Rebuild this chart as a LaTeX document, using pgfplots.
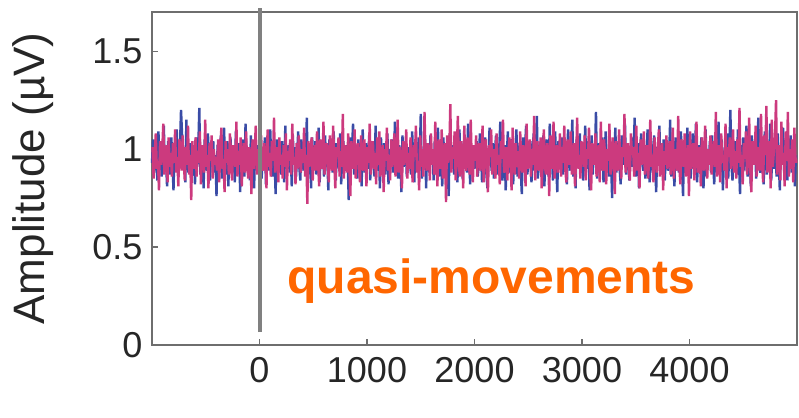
\documentclass[border=0pt]{standalone}
\usepackage{fontspec}
\setmainfont{Liberation Sans}
\usepackage{pgfplots}
\usepackage{pgfplotstable}
\pgfplotsset{compat=1.18}
\definecolor{bluetrace}{HTML}{3A4CA6}
\definecolor{pinktrace}{HTML}{CC3A7E}
\definecolor{framegray}{HTML}{6E6E6E}
\definecolor{vgray}{HTML}{808080}
\definecolor{orangetxt}{HTML}{FF6600}

\pgfplotstableread[row sep=\\]{
y\\
0.93\\ 1.05\\ 0.88\\ 1.01\\ 0.97\\ 0.84\\ 1.09\\ 0.92\\ 1.02\\ 0.86\\ 0.99\\ 1.12\\ 0.90\\ 0.95\\ 0.81\\ 1.04\\ 0.98\\ 0.87\\ 1.06\\ 0.93\\
0.79\\ 1.03\\ 0.96\\ 1.10\\ 0.89\\ 0.94\\ 1.01\\ 1.20\\ 1.07\\ 0.91\\ 0.97\\ 0.83\\ 1.15\\ 0.92\\ 0.88\\ 1.03\\ 0.95\\ 0.86\\ 1.00\\ 0.98\\
0.82\\ 1.06\\ 0.91\\ 0.99\\ 1.21\\ 0.87\\ 0.94\\ 1.02\\ 0.80\\ 1.05\\ 0.93\\ 0.89\\ 1.08\\ 0.96\\ 0.84\\ 1.01\\ 0.92\\ 1.04\\ 0.88\\ 0.97\\
0.76\\ 1.02\\ 0.95\\ 0.90\\ 1.07\\ 0.85\\ 0.99\\ 1.11\\ 0.93\\ 0.87\\ 1.04\\ 0.81\\ 0.98\\ 1.06\\ 0.91\\ 0.95\\ 1.00\\ 0.83\\ 1.09\\ 0.94\\
0.89\\ 1.03\\ 0.78\\ 0.97\\ 1.05\\ 0.92\\ 0.86\\ 1.13\\ 0.95\\ 0.90\\ 1.01\\ 0.84\\ 1.07\\ 0.93\\ 0.98\\ 0.80\\ 1.04\\ 0.96\\ 0.88\\ 1.02\\
0.91\\ 1.08\\ 0.85\\ 0.99\\ 0.94\\ 1.06\\ 0.82\\ 1.00\\ 0.97\\ 0.89\\ 1.10\\ 0.93\\ 0.86\\ 1.03\\ 0.95\\ 0.77\\ 1.05\\ 0.92\\ 0.98\\ 1.01\\
0.87\\ 1.04\\ 0.94\\ 0.83\\ 1.12\\ 0.90\\ 0.96\\ 1.02\\ 0.88\\ 0.99\\ 0.81\\ 1.07\\ 0.93\\ 1.01\\ 0.86\\ 0.97\\ 1.09\\ 0.91\\ 0.84\\ 1.05\\
0.95\\ 0.89\\ 1.03\\ 0.92\\ 1.16\\ 0.85\\ 0.98\\ 1.00\\ 0.80\\ 1.06\\ 0.94\\ 0.90\\ 1.04\\ 0.87\\ 0.96\\ 1.11\\ 0.83\\ 1.02\\ 0.93\\ 0.99\\
0.86\\ 1.07\\ 0.91\\ 0.97\\ 0.79\\ 1.05\\ 0.94\\ 1.01\\ 0.88\\ 1.09\\ 0.92\\ 0.84\\ 1.03\\ 0.96\\ 0.90\\ 1.08\\ 0.82\\ 0.99\\ 1.04\\ 0.93\\
0.89\\ 1.02\\ 0.95\\ 0.74\\ 1.06\\ 0.91\\ 0.98\\ 1.13\\ 0.87\\ 0.94\\ 1.00\\ 0.85\\ 1.05\\ 0.92\\ 0.97\\ 0.81\\ 1.10\\ 0.93\\ 0.88\\ 1.03\\
0.96\\ 0.90\\ 1.07\\ 0.84\\ 0.99\\ 1.04\\ 0.92\\ 0.86\\ 1.12\\ 0.95\\ 0.89\\ 1.01\\ 0.80\\ 1.06\\ 0.93\\ 0.97\\ 1.03\\ 0.87\\ 0.94\\ 1.08\\
0.82\\ 1.00\\ 0.95\\ 1.05\\ 0.88\\ 0.93\\ 1.14\\ 0.90\\ 0.97\\ 0.85\\ 1.02\\ 0.94\\ 0.78\\ 1.07\\ 0.91\\ 0.99\\ 1.04\\ 0.86\\ 0.96\\ 1.01\\
0.92\\ 0.87\\ 1.09\\ 0.94\\ 0.83\\ 1.03\\ 0.97\\ 0.89\\ 1.06\\ 0.93\\ 1.18\\ 0.85\\ 0.99\\ 0.91\\ 1.05\\ 0.80\\ 1.02\\ 0.95\\ 0.88\\ 1.07\\
0.94\\ 1.00\\ 0.84\\ 1.04\\ 0.90\\ 0.97\\ 1.11\\ 0.86\\ 0.99\\ 0.93\\ 0.81\\ 1.06\\ 0.95\\ 0.89\\ 1.03\\ 0.92\\ 0.76\\ 1.08\\ 0.96\\ 0.91\\
1.02\\ 0.87\\ 0.98\\ 1.05\\ 0.83\\ 0.94\\ 1.10\\ 0.90\\ 0.97\\ 0.85\\ 1.04\\ 0.92\\ 1.00\\ 0.88\\ 1.13\\ 0.95\\ 0.82\\ 1.01\\ 0.93\\ 0.99\\
0.90\\ 0.97\\ 1.04\\ 0.86\\ 0.92\\ 1.08\\ 1.01\\ 0.83\\ 0.95\\ 0.99\\ 1.06\\ 0.88\\ 0.80\\ 0.94\\ 1.11\\ 0.96\\ 0.89\\ 1.03\\ 0.85\\ 0.98\\
1.07\\ 0.93\\ 0.87\\ 1.00\\ 1.14\\ 0.91\\ 0.84\\ 0.97\\ 1.02\\ 0.79\\ 0.95\\ 1.09\\ 0.92\\ 0.88\\ 1.05\\ 0.99\\ 0.82\\ 1.01\\ 0.94\\ 1.10\\
0.86\\ 0.96\\ 1.03\\ 0.90\\ 0.77\\ 1.06\\ 0.93\\ 1.00\\ 1.12\\ 0.87\\ 0.91\\ 0.98\\ 1.04\\ 0.83\\ 0.95\\ 1.08\\ 0.89\\ 0.92\\ 1.17\\ 0.85\\
0.99\\ 1.02\\ 0.88\\ 0.94\\ 1.07\\ 0.81\\ 0.97\\ 1.05\\ 0.90\\ 0.86\\ 1.13\\ 0.93\\ 0.96\\ 0.84\\ 1.01\\ 1.09\\ 0.92\\ 0.78\\ 1.04\\ 0.95\\
0.91\\ 1.06\\ 0.87\\ 0.99\\ 1.03\\ 0.93\\ 0.82\\ 1.10\\ 0.96\\ 0.89\\ 1.00\\ 1.15\\ 0.86\\ 0.94\\ 0.80\\ 1.05\\ 0.97\\ 0.91\\ 1.08\\ 0.88\\
1.02\\ 0.84\\ 0.95\\ 1.12\\ 0.90\\ 0.98\\ 1.04\\ 0.79\\ 0.93\\ 1.07\\ 0.87\\ 1.00\\ 0.96\\ 1.19\\ 0.85\\ 0.92\\ 1.03\\ 0.89\\ 0.97\\ 1.06\\
0.83\\ 0.94\\ 1.09\\ 0.91\\ 0.99\\ 0.86\\ 1.05\\ 0.95\\ 0.75\\ 1.02\\ 0.93\\ 1.11\\ 0.88\\ 0.97\\ 1.04\\ 0.90\\ 0.82\\ 1.07\\ 0.96\\ 0.92\\
1.13\\ 0.87\\ 0.98\\ 1.01\\ 0.84\\ 0.94\\ 1.06\\ 0.91\\ 0.99\\ 1.16\\ 0.86\\ 0.95\\ 1.03\\ 0.80\\ 0.97\\ 1.08\\ 0.93\\ 0.89\\ 1.02\\ 0.85\\
0.96\\ 1.10\\ 0.90\\ 0.83\\ 1.04\\ 0.97\\ 0.88\\ 1.07\\ 0.93\\ 0.78\\ 1.01\\ 0.95\\ 1.12\\ 0.87\\ 0.99\\ 0.92\\ 1.05\\ 0.84\\ 0.98\\ 1.03\\
0.89\\ 0.94\\ 1.15\\ 0.86\\ 1.00\\ 0.92\\ 0.81\\ 1.06\\ 0.97\\ 1.03\\ 0.88\\ 0.95\\ 1.09\\ 0.91\\ 0.76\\ 1.04\\ 0.99\\ 0.87\\ 1.11\\ 0.93\\
1.01\\ 0.85\\ 0.96\\ 1.08\\ 0.90\\ 0.98\\ 1.13\\ 0.83\\ 0.94\\ 1.02\\ 0.89\\ 1.06\\ 0.92\\ 0.80\\ 0.97\\ 1.10\\ 0.86\\ 1.00\\ 0.95\\ 1.04\\
0.88\\ 1.07\\ 0.93\\ 0.82\\ 1.03\\ 0.96\\ 0.91\\ 1.14\\ 0.87\\ 0.99\\ 1.05\\ 0.79\\ 0.94\\ 1.01\\ 0.90\\ 1.08\\ 0.85\\ 0.97\\ 1.20\\ 0.92\\
0.84\\ 0.98\\ 1.04\\ 0.91\\ 0.87\\ 1.10\\ 0.95\\ 0.77\\ 1.02\\ 0.93\\ 1.06\\ 0.89\\ 0.99\\ 1.12\\ 0.86\\ 0.94\\ 1.00\\ 0.81\\ 1.07\\ 0.96\\
0.92\\ 1.03\\ 0.85\\ 0.97\\ 1.16\\ 0.90\\ 0.88\\ 1.05\\ 0.94\\ 0.82\\ 1.09\\ 0.98\\ 0.87\\ 1.01\\ 0.93\\ 1.13\\ 0.84\\ 0.96\\ 1.04\\ 0.90\\
1.00\\ 0.86\\ 1.08\\ 0.95\\ 0.79\\ 1.02\\ 0.93\\ 1.11\\ 0.89\\ 0.97\\ 1.05\\ 0.84\\ 0.99\\ 0.91\\ 1.07\\ 0.88\\ 0.95\\ 1.03\\ 0.81\\ 0.97\\
}\bluedata
\pgfplotstableread[row sep=\\]{
y\\
1.01\\ 0.85\\ 0.97\\ 1.08\\ 0.90\\ 0.94\\ 0.79\\ 1.04\\ 0.92\\ 0.99\\ 1.13\\ 0.87\\ 0.95\\ 1.02\\ 0.83\\ 1.06\\ 0.91\\ 0.98\\ 0.86\\ 1.03\\
0.93\\ 1.10\\ 0.88\\ 0.96\\ 0.81\\ 1.05\\ 0.99\\ 0.89\\ 1.07\\ 0.94\\ 0.84\\ 1.01\\ 0.92\\ 1.12\\ 0.87\\ 0.97\\ 0.74\\ 1.04\\ 0.95\\ 0.90\\
1.06\\ 0.86\\ 0.99\\ 0.93\\ 1.09\\ 0.82\\ 1.02\\ 0.95\\ 0.88\\ 1.15\\ 0.91\\ 0.97\\ 0.80\\ 1.03\\ 0.94\\ 1.07\\ 0.85\\ 1.00\\ 0.92\\ 0.96\\
0.89\\ 1.05\\ 0.83\\ 0.98\\ 1.11\\ 0.90\\ 0.95\\ 0.78\\ 1.04\\ 0.93\\ 1.00\\ 0.87\\ 1.08\\ 0.94\\ 0.84\\ 1.02\\ 0.97\\ 0.91\\ 1.14\\ 0.86\\
0.99\\ 0.92\\ 1.06\\ 0.81\\ 0.96\\ 1.03\\ 0.88\\ 1.09\\ 0.93\\ 0.85\\ 1.01\\ 0.97\\ 0.77\\ 1.05\\ 0.90\\ 0.98\\ 1.12\\ 0.87\\ 0.94\\ 1.00\\
0.84\\ 1.07\\ 0.93\\ 0.89\\ 1.03\\ 0.96\\ 0.80\\ 1.10\\ 0.91\\ 0.98\\ 0.86\\ 1.04\\ 0.94\\ 1.16\\ 0.88\\ 0.95\\ 1.01\\ 0.83\\ 1.06\\ 0.92\\
0.97\\ 0.85\\ 1.02\\ 0.91\\ 1.08\\ 0.79\\ 0.99\\ 0.94\\ 1.05\\ 0.87\\ 1.13\\ 0.92\\ 0.96\\ 0.82\\ 1.03\\ 0.90\\ 1.07\\ 0.95\\ 0.88\\ 1.00\\
0.93\\ 1.11\\ 0.86\\ 0.97\\ 0.72\\ 1.04\\ 0.91\\ 0.99\\ 1.06\\ 0.84\\ 0.95\\ 1.02\\ 0.89\\ 1.09\\ 0.93\\ 0.81\\ 1.05\\ 0.97\\ 0.90\\ 1.14\\
0.87\\ 0.98\\ 1.03\\ 0.92\\ 0.83\\ 1.07\\ 0.95\\ 0.89\\ 1.12\\ 0.94\\ 0.80\\ 1.01\\ 0.96\\ 1.06\\ 0.86\\ 0.99\\ 0.91\\ 1.18\\ 0.85\\ 1.02\\
0.95\\ 0.88\\ 1.08\\ 0.93\\ 0.76\\ 1.04\\ 0.97\\ 0.90\\ 1.10\\ 0.85\\ 0.99\\ 1.03\\ 0.92\\ 0.83\\ 1.07\\ 0.94\\ 0.89\\ 1.05\\ 0.96\\ 0.81\\
1.01\\ 0.93\\ 1.13\\ 0.87\\ 0.96\\ 1.04\\ 0.90\\ 0.98\\ 0.82\\ 1.06\\ 0.92\\ 1.09\\ 0.86\\ 0.95\\ 1.02\\ 0.78\\ 1.00\\ 0.94\\ 1.11\\ 0.89\\
0.97\\ 0.84\\ 1.05\\ 0.91\\ 0.99\\ 1.08\\ 0.86\\ 0.93\\ 1.15\\ 0.88\\ 1.01\\ 0.95\\ 0.80\\ 1.04\\ 0.92\\ 0.97\\ 1.10\\ 0.85\\ 0.98\\ 0.90\\
1.06\\ 0.93\\ 0.83\\ 1.02\\ 0.96\\ 1.12\\ 0.88\\ 0.94\\ 0.79\\ 1.07\\ 0.91\\ 1.00\\ 0.86\\ 1.19\\ 0.95\\ 0.89\\ 1.03\\ 0.97\\ 0.84\\ 1.08\\
0.92\\ 1.00\\ 0.87\\ 1.14\\ 0.94\\ 0.81\\ 1.05\\ 0.96\\ 0.90\\ 1.10\\ 0.85\\ 0.99\\ 1.03\\ 0.73\\ 1.07\\ 0.93\\ 0.97\\ 1.23\\ 0.88\\ 1.01\\
0.95\\ 1.09\\ 0.84\\ 0.98\\ 1.17\\ 0.91\\ 0.86\\ 1.04\\ 0.97\\ 0.80\\ 1.12\\ 0.93\\ 0.89\\ 1.06\\ 0.95\\ 0.87\\ 1.15\\ 0.92\\ 0.83\\ 1.02\\
0.94\\ 1.07\\ 0.86\\ 0.99\\ 1.03\\ 0.89\\ 0.95\\ 1.12\\ 0.83\\ 0.97\\ 1.05\\ 0.91\\ 0.78\\ 1.02\\ 0.96\\ 1.10\\ 0.87\\ 0.93\\ 1.00\\ 0.85\\
1.08\\ 0.92\\ 0.97\\ 0.82\\ 1.04\\ 0.95\\ 1.15\\ 0.88\\ 0.90\\ 1.01\\ 0.84\\ 0.98\\ 1.06\\ 0.93\\ 0.79\\ 1.11\\ 0.96\\ 0.87\\ 1.03\\ 0.91\\
0.99\\ 0.85\\ 1.09\\ 0.94\\ 0.88\\ 1.02\\ 0.97\\ 0.81\\ 1.13\\ 0.90\\ 0.95\\ 1.05\\ 0.86\\ 1.00\\ 0.92\\ 1.17\\ 0.84\\ 0.98\\ 1.04\\ 0.89\\
0.93\\ 1.06\\ 0.80\\ 0.96\\ 1.10\\ 0.91\\ 0.87\\ 1.03\\ 0.99\\ 0.76\\ 1.07\\ 0.94\\ 0.90\\ 1.14\\ 0.85\\ 0.97\\ 1.02\\ 0.88\\ 0.95\\ 1.08\\
0.86\\ 1.01\\ 0.93\\ 1.12\\ 0.89\\ 0.83\\ 1.05\\ 0.96\\ 0.92\\ 1.09\\ 0.87\\ 0.99\\ 1.03\\ 0.81\\ 0.94\\ 1.16\\ 0.90\\ 0.97\\ 0.85\\ 1.04\\
0.98\\ 0.91\\ 1.07\\ 0.84\\ 1.00\\ 0.95\\ 1.11\\ 0.88\\ 0.79\\ 1.03\\ 0.96\\ 0.92\\ 1.08\\ 0.86\\ 0.99\\ 1.02\\ 0.83\\ 1.14\\ 0.93\\ 0.89\\
1.05\\ 0.97\\ 0.82\\ 1.00\\ 0.94\\ 1.13\\ 0.87\\ 0.91\\ 1.06\\ 0.98\\ 0.77\\ 1.04\\ 0.93\\ 0.89\\ 1.10\\ 0.95\\ 0.85\\ 1.01\\ 0.96\\ 1.18\\
0.88\\ 0.94\\ 1.03\\ 0.90\\ 0.84\\ 1.08\\ 0.97\\ 1.01\\ 0.86\\ 0.93\\ 1.12\\ 0.89\\ 0.98\\ 0.80\\ 1.05\\ 0.92\\ 0.96\\ 1.09\\ 0.87\\ 0.99\\
1.02\\ 0.85\\ 0.95\\ 1.15\\ 0.91\\ 0.97\\ 0.83\\ 1.06\\ 0.94\\ 0.88\\ 1.00\\ 1.10\\ 0.86\\ 0.96\\ 1.03\\ 0.79\\ 0.99\\ 0.92\\ 1.07\\ 0.90\\
0.97\\ 1.04\\ 0.87\\ 0.93\\ 1.11\\ 0.85\\ 1.00\\ 0.95\\ 0.89\\ 1.17\\ 0.92\\ 0.82\\ 1.05\\ 0.98\\ 0.91\\ 1.08\\ 0.86\\ 0.94\\ 1.02\\ 0.76\\
1.09\\ 0.90\\ 0.96\\ 1.03\\ 0.84\\ 0.99\\ 1.14\\ 0.88\\ 0.93\\ 1.01\\ 0.81\\ 1.06\\ 0.95\\ 0.89\\ 1.12\\ 0.97\\ 0.85\\ 1.00\\ 0.92\\ 1.07\\
0.87\\ 0.98\\ 1.04\\ 0.91\\ 1.19\\ 0.86\\ 0.95\\ 1.02\\ 0.83\\ 1.08\\ 0.93\\ 0.97\\ 0.89\\ 1.13\\ 0.80\\ 1.01\\ 0.96\\ 1.06\\ 0.90\\ 0.94\\
1.10\\ 0.88\\ 0.99\\ 0.85\\ 1.05\\ 0.93\\ 1.21\\ 0.91\\ 0.97\\ 0.82\\ 1.03\\ 0.95\\ 1.09\\ 0.87\\ 0.94\\ 1.16\\ 0.90\\ 0.78\\ 1.04\\ 0.98\\
0.92\\ 1.12\\ 0.86\\ 0.96\\ 1.01\\ 0.89\\ 1.18\\ 0.94\\ 0.83\\ 1.07\\ 0.97\\ 1.22\\ 0.88\\ 0.93\\ 1.04\\ 0.80\\ 1.15\\ 0.91\\ 0.99\\ 1.06\\
1.25\\ 0.87\\ 0.95\\ 1.02\\ 0.84\\ 1.14\\ 0.92\\ 0.98\\ 0.81\\ 1.09\\ 0.94\\ 1.19\\ 0.86\\ 1.00\\ 0.90\\ 1.05\\ 0.83\\ 1.11\\ 0.96\\ 0.93\\
}\pinkdata

\begin{document}
\begin{tikzpicture}
\begin{axis}[
  at={(0pt,0pt)}, anchor=south west,
  scale only axis, width=645pt, height=333pt,
  xmin=-1000, xmax=5000, ymin=0, ymax=1.7,
  xtick={0,1000,2000,3000,4000},
  ytick={0,0.5,1,1.5},
  yticklabels={0,0.5,1,1.5},
  axis line style={draw=framegray, line width=1.6pt},
  tick style={draw=framegray, line width=1.2pt},
  tick align=inside, major tick length=6pt,
  xtick pos=bottom, ytick pos=left,
  /pgf/number format/assume math mode=true,
  /pgf/number format/1000 sep={},
  ticklabel style={font=\fontsize{36}{42}\selectfont, text=black!85},
  xticklabel style={yshift=-9pt},
  yticklabel style={xshift=-6pt},
  ylabel={Amplitude (µV)},
  ylabel style={at={(axis description cs:-0.184,0.5)}, anchor=center, font=\fontsize{44}{50}\selectfont, text=black!85},
  clip=false,
]
\addplot[bluetrace, line width=2.4pt, line join=bevel] table[x expr=\coordindex*10-1000, y index=0] {\bluedata};
\addplot[pinktrace, line width=2.4pt, line join=bevel] table[x expr=\coordindex*10-995, y index=0] {\pinkdata};
\addplot[vgray, line width=4pt] coordinates {(0,0.066) (0,1.72)};
\node[anchor=base, text=orangetxt, font=\fontsize{48}{56}\selectfont\bfseries] at (axis cs:2158,0.265) {quasi-movements};
\end{axis}
\path[use as bounding box] (-152pt,-72pt) rectangle (647pt,345pt);
\end{tikzpicture}
\end{document}
